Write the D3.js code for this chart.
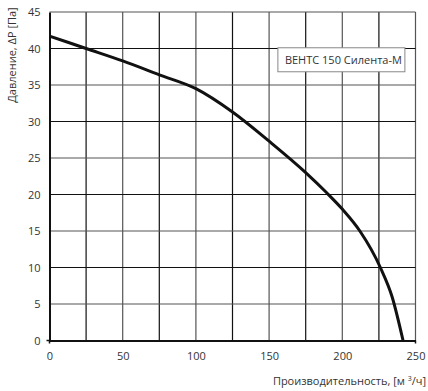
<!DOCTYPE html>
<html>
<head>
<meta charset="utf-8">
<script src="https://cdn.jsdelivr.net/npm/d3@7"></script>
<style>
  body { margin: 0; background: #fff; }
  text { font-family: "Open Sans", "Noto Sans", sans-serif; fill: #333; }
</style>
</head>
<body>
<div id="wrapper"></div>
<script>
// flow, m3/h
const flow = [0, 25, 50, 75, 100, 125, 150, 175, 189, 200, 212, 226, 234, 241.5]
// pressure, Pa
const pressure = [41.7, 40, 38.3, 36.4, 34.5, 31.3, 27.3, 23.0, 20.3, 18, 15, 10, 6, 0]
const xTicks = [0, 50, 100, 150, 200, 250]
const yTicks = [0, 5, 10, 15, 20, 25, 30, 35, 40, 45]
const xGrid = [25, 50, 75, 100, 125, 150, 175, 200, 225, 250]
const legendLabel = "ВЕНТС 150 Силента-М"

function drawChart() {
  let dimensions = {
    width: 428,
    height: 391,
    margin: { top: 12, right: 12.5, bottom: 50.5, left: 49.5 },
  }
  dimensions.boundedWidth = dimensions.width - dimensions.margin.left - dimensions.margin.right
  dimensions.boundedHeight = dimensions.height - dimensions.margin.top - dimensions.margin.bottom

  const wrapper = d3.select("#wrapper")
    .append("svg")
      .attr("width", dimensions.width)
      .attr("height", dimensions.height)

  const bounds = wrapper.append("g")
      .attr("transform", `translate(${dimensions.margin.left},${dimensions.margin.top})`)

  const xScale = d3.scaleLinear().domain([0, 250]).range([0, dimensions.boundedWidth])
  const yScale = d3.scaleLinear().domain([0, 45]).range([dimensions.boundedHeight, 0])

  // grid
  bounds.append("g").selectAll("line").data(xGrid).join("line")
      .attr("x1", d => xScale(d)).attr("x2", d => xScale(d))
      .attr("y1", 0).attr("y2", dimensions.boundedHeight)
      .attr("stroke", (d, i) => i % 2 ? "#555" : "#111")
      .attr("stroke-width", 1.2)
  bounds.append("g").selectAll("line").data(yTicks.slice(1)).join("line")
      .attr("x1", 0).attr("x2", dimensions.boundedWidth)
      .attr("y1", d => yScale(d)).attr("y2", d => yScale(d))
      .attr("stroke", (d, i) => i % 2 ? "#111" : "#555")
      .attr("stroke-width", 1.2)

  // axes
  const xAxis = bounds.append("g")
      .attr("transform", `translate(0,${dimensions.boundedHeight})`)
      .call(d3.axisBottom(xScale).tickValues(xTicks).tickSize(0).tickPadding(12))
  xAxis.select(".domain").attr("stroke", "#111").attr("stroke-width", 2)
  xAxis.selectAll("text").style("font-size", "11px").attr("fill", "#333")
    .style("font-family", "'Open Sans', sans-serif")

  const yAxis = bounds.append("g")
      .call(d3.axisLeft(yScale).tickValues(yTicks).tickSize(0).tickPadding(9))
  yAxis.select(".domain").attr("stroke", "#111").attr("stroke-width", 2)
  yAxis.selectAll("text").style("font-size", "11px").attr("fill", "#333")
    .style("font-family", "'Open Sans', sans-serif")

  // small ticks
  bounds.append("g").selectAll("line").data([0, 250]).join("line")
      .attr("x1", d => xScale(d)).attr("x2", d => xScale(d))
      .attr("y1", dimensions.boundedHeight).attr("y2", dimensions.boundedHeight + 3)
      .attr("stroke", "#111").attr("stroke-width", 1.5)
  bounds.append("line")
      .attr("x1", -3).attr("x2", 0)
      .attr("y1", yScale(0)).attr("y2", yScale(0))
      .attr("stroke", "#111").attr("stroke-width", 1.5)

  // curve
  const line = d3.line()
      .x((d, i) => xScale(flow[i]))
      .y(d => yScale(d))
      .curve(d3.curveMonotoneX)
  bounds.append("path")
      .datum(pressure)
      .attr("d", line)
      .attr("fill", "none")
      .attr("stroke", "#111")
      .attr("stroke-width", 3)

  // legend
  const legend = bounds.append("g")
      .attr("transform", `translate(${xScale(156)},${yScale(40.1)})`)
  legend.append("rect")
      .attr("width", 127).attr("height", 24)
      .attr("fill", "#fff").attr("stroke", "#888").attr("stroke-width", 1)
  legend.append("text")
      .attr("x", 7).attr("y", 16)
      .style("font-size", "11px")
      .text(legendLabel)

  // axis titles
  wrapper.append("text")
      .attr("transform", `translate(16,${dimensions.margin.top + 43}) rotate(-90)`)
      .attr("text-anchor", "middle")
      .style("font-size", "11px")
      .text("Давление, ΔP [Па]")
  const xt = wrapper.append("text")
      .attr("x", 426).attr("y", 385)
      .attr("text-anchor", "end")
      .style("font-size", "11px")
  xt.append("tspan").text("Производительность, [м ")
  xt.append("tspan").attr("dy", -4).style("font-size", "7px").text("3")
  xt.append("tspan").attr("dy", 4).text("/ч]")
}

drawChart()
</script>
</body>
</html>
